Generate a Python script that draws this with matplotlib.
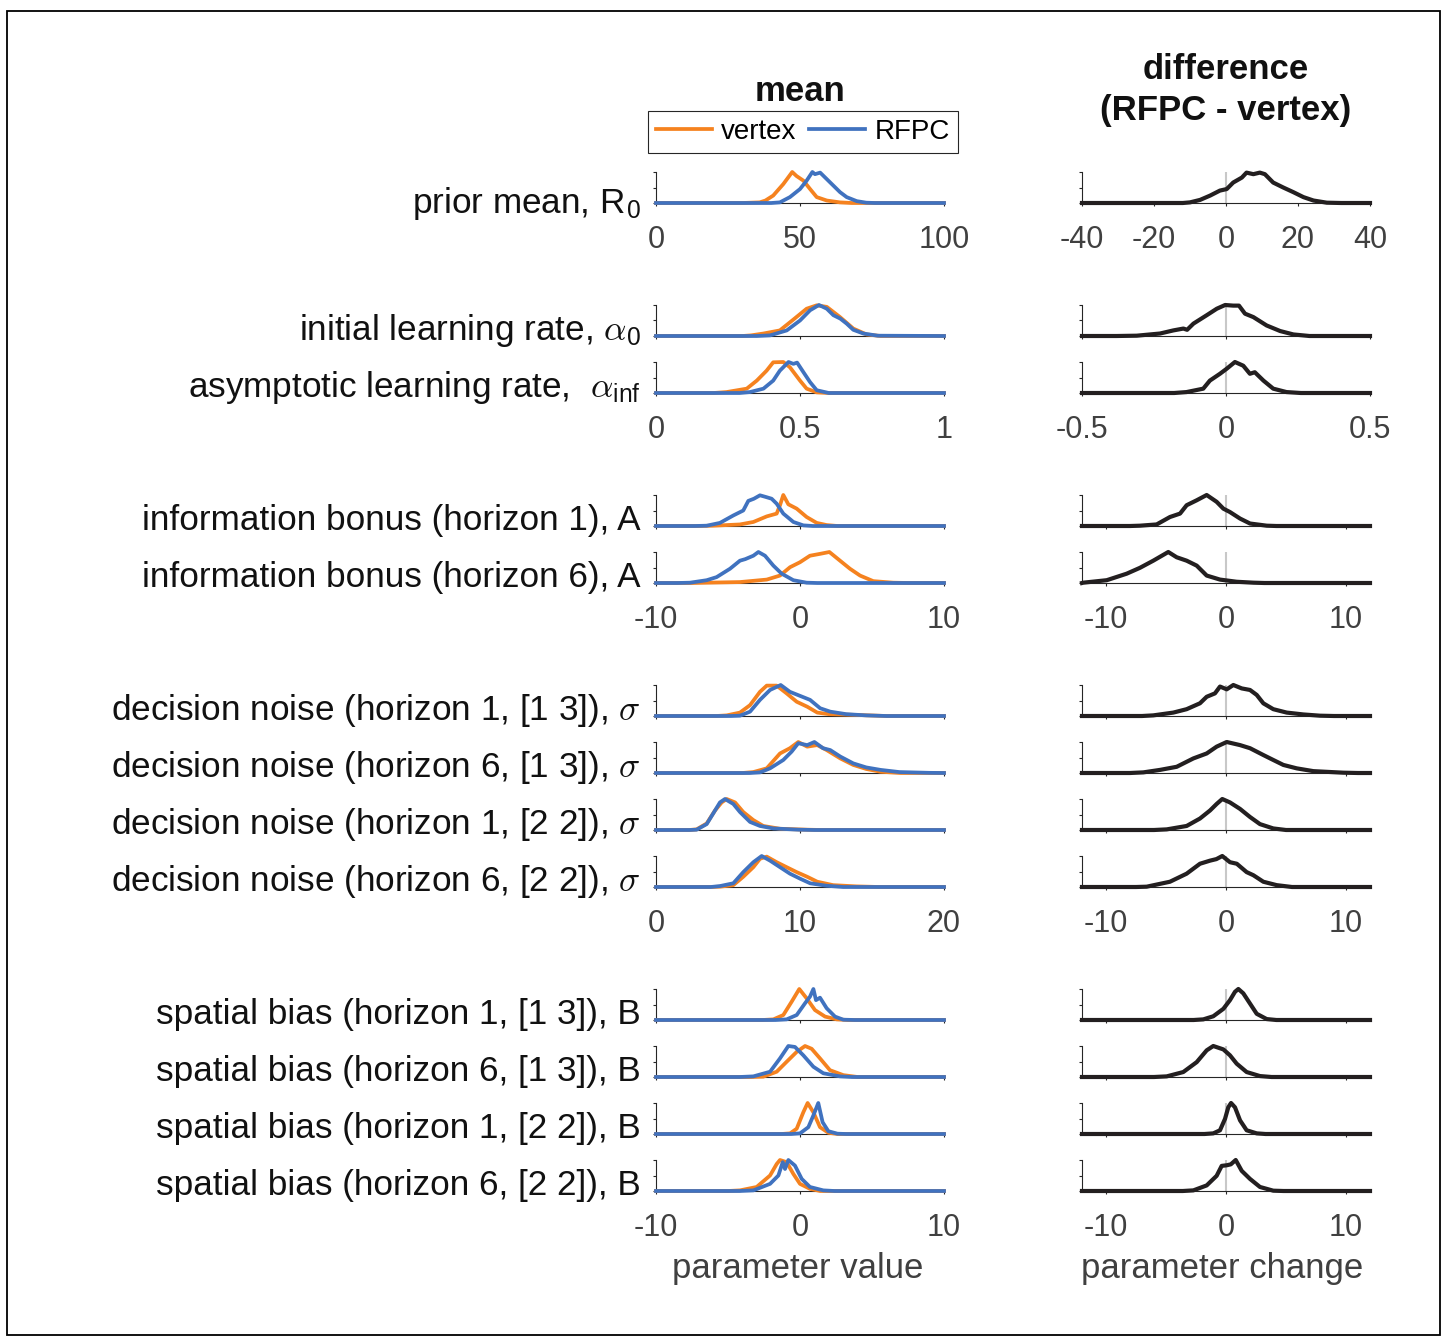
import matplotlib.pyplot as plt
from matplotlib.patches import Rectangle
from matplotlib.lines import Line2D

plt.rcParams["font.family"] = ["Liberation Sans", "DejaVu Sans"]
plt.rcParams["mathtext.fontset"] = "cm"
plt.rcParams["axes.unicode_minus"] = False

# ---------------- data (peak-normalised densities) ----------------
row_labels = [
    r"prior mean, R$_{\mathregular{0}}$",
    r"initial learning rate, $\alpha_{\mathregular{0}}$",
    r"asymptotic learning rate,  $\alpha_{\mathregular{inf}}$",
    "information bonus (horizon 1), A",
    "information bonus (horizon 6), A",
    r"decision noise (horizon 1, [1 3]), $\sigma$",
    r"decision noise (horizon 6, [1 3]), $\sigma$",
    r"decision noise (horizon 1, [2 2]), $\sigma$",
    r"decision noise (horizon 6, [2 2]), $\sigma$",
    "spatial bias (horizon 1, [1 3]), B",
    "spatial bias (horizon 6, [1 3]), B",
    "spatial bias (horizon 1, [2 2]), B",
    "spatial bias (horizon 6, [2 2]), B",
]

mean_xlims = [(0, 100), (0, 1), (0, 1), (-10, 10), (-10, 10),
              (0, 20), (0, 20), (0, 20), (0, 20),
              (-10, 10), (-10, 10), (-10, 10), (-10, 10)]
mean_ticks = [[0, 50, 100], [0, 0.5, 1], [0, 0.5, 1], [-10, 0, 10], [-10, 0, 10],
              [0, 10, 20], [0, 10, 20], [0, 10, 20], [0, 10, 20],
              [-10, 0, 10], [-10, 0, 10], [-10, 0, 10], [-10, 0, 10]]
diff_xlims = [(-40, 40), (-0.5, 0.5), (-0.5, 0.5)] + [(-12, 12)] * 10
diff_ticks = [[-40, -20, 0, 20, 40], [-0.5, 0, 0.5], [-0.5, 0, 0.5]] + [[-10, 0, 10]] * 10
labelled_rows = [0, 2, 4, 8, 12]

vertex_x = [
    [0, 30, 36, 38, 40.7, 44.2, 47.3, 48.8, 51.2, 53.5, 55.8, 59.3, 63.9, 68, 100],
    [0, 0.3, 0.33, 0.373, 0.43, 0.477, 0.523, 0.558, 0.593, 0.639, 0.685, 0.731, 0.78, 1],
    [0, 0.2, 0.245, 0.315, 0.35, 0.384, 0.407, 0.442, 0.465, 0.5, 0.523, 0.558, 0.6, 1],
    [-10, -7, -6.02, -4.17, -3.24, -2.31, -1.62, -1.39, -1.16, -0.81, -0.23, 0.46, 1.16, 1.85, 2.6, 10],
    [-10, -7.5, -6.48, -4.17, -2.31, -1.39, -0.69, 0, 0.69, 1.39, 2.04, 2.78, 3.47, 4.17, 5.09, 6.48, 7.5, 10],
    [0, 4.2, 4.91, 5.83, 6.53, 7.22, 7.69, 8.38, 9.07, 9.77, 10.5, 11.2, 12.0, 14.2, 16, 20],
    [0, 6, 6.76, 7.69, 8.61, 9.3, 9.88, 10.5, 11.2, 11.85, 12.8, 13.7, 14.6, 15.6, 17, 20],
    [0, 2.3, 2.82, 3.52, 4.1, 4.56, 4.91, 5.49, 6.06, 6.76, 7.45, 8.61, 10.5, 11.5, 20],
    [0, 3.8, 4.44, 5.37, 6.06, 6.76, 7.22, 7.69, 8.38, 9.07, 9.77, 10.5, 11.2, 12.3, 13.9, 15.5, 20],
    [-10, -2.6, -1.85, -1.16, -0.58, -0.05, 0.46, 1.04, 1.74, 2.55, 3.3, 10],
    [-10, -3.4, -2.55, -1.62, -0.93, -0.23, 0.35, 0.81, 1.39, 2.08, 3.01, 4.0, 10],
    [-10, -1.3, -0.69, -0.23, 0.23, 0.53, 0.93, 1.39, 1.97, 2.6, 10],
    [-10, -5, -4.17, -3.01, -2.08, -1.62, -1.39, -0.93, -0.46, 0, 0.69, 1.4, 10],
]
vertex_y = [
    [0, 0, 0.02, 0.08, 0.24, 0.61, 1.0, 0.87, 0.72, 0.45, 0.19, 0.08, 0.02, 0, 0],
    [0, 0, 0.02, 0.08, 0.18, 0.53, 0.88, 0.99, 0.94, 0.61, 0.24, 0.05, 0, 0],
    [0, 0, 0.03, 0.14, 0.4, 0.72, 0.99, 1.0, 0.83, 0.4, 0.14, 0.02, 0, 0],
    [0, 0, 0.01, 0.05, 0.13, 0.31, 0.4, 0.67, 1.0, 0.7, 0.56, 0.29, 0.1, 0.03, 0, 0],
    [0, 0, 0.01, 0.03, 0.11, 0.24, 0.51, 0.67, 0.88, 0.94, 1.0, 0.72, 0.46, 0.24, 0.06, 0.01, 0, 0],
    [0, 0, 0.02, 0.11, 0.35, 0.78, 0.98, 0.98, 0.73, 0.46, 0.3, 0.11, 0.06, 0.03, 0, 0],
    [0, 0, 0.03, 0.15, 0.63, 0.8, 1.0, 0.85, 0.9, 0.74, 0.47, 0.26, 0.13, 0.04, 0, 0],
    [0, 0, 0.02, 0.21, 0.63, 0.89, 1.0, 0.89, 0.58, 0.32, 0.13, 0.04, 0.01, 0, 0],
    [0, 0, 0.01, 0.06, 0.33, 0.64, 0.91, 0.98, 0.8, 0.64, 0.48, 0.33, 0.17, 0.06, 0.02, 0, 0],
    [0, 0, 0.02, 0.16, 0.59, 1.0, 0.7, 0.32, 0.11, 0.02, 0, 0],
    [0, 0, 0.01, 0.17, 0.49, 0.81, 1.0, 0.91, 0.6, 0.22, 0.06, 0, 0],
    [0, 0, 0.02, 0.17, 0.7, 1.0, 0.7, 0.22, 0.04, 0, 0],
    [0, 0, 0.02, 0.13, 0.5, 0.87, 1.0, 0.93, 0.55, 0.23, 0.07, 0, 0],
]

rfpc_x = [
    [0, 40, 43, 46.5, 50, 52.3, 54.3, 55.2, 57, 59.3, 61.6, 63.9, 66.2, 69.7, 73, 76, 100],
    [0, 0.35, 0.396, 0.454, 0.5, 0.535, 0.566, 0.593, 0.616, 0.64, 0.662, 0.685, 0.72, 0.77, 1],
    [0, 0.29, 0.326, 0.373, 0.407, 0.43, 0.46, 0.477, 0.49, 0.512, 0.535, 0.558, 0.6, 1],
    [-10, -7.3, -6.48, -5.56, -4.63, -3.94, -3.59, -3.2, -2.78, -2.4, -1.97, -1.62, -1.16, -0.46, 0.23, 0.9, 10],
    [-10, -8.5, -7.64, -6.48, -5.79, -4.86, -4.17, -3.8, -3.24, -2.89, -2.43, -1.85, -1.27, -0.46, 0.46, 1.2, 10],
    [0, 5.2, 5.83, 6.53, 7.22, 7.92, 8.66, 9.3, 10, 10.7, 11.4, 12.1, 13.2, 14.6, 16, 20],
    [0, 6.5, 7.22, 7.92, 8.84, 9.42, 9.88, 10.5, 11.0, 11.6, 12.1, 12.8, 13.7, 14.6, 15.6, 16.9, 19, 20],
    [0, 2.3, 2.82, 3.52, 4.1, 4.44, 4.79, 5.37, 5.83, 6.53, 7.22, 8.15, 9.9, 11, 20],
    [0, 3.8, 4.44, 5.37, 6.06, 6.76, 7.34, 7.92, 8.61, 9.3, 10, 10.7, 11.85, 13, 20],
    [-10, -1.7, -0.93, -0.23, 0.35, 0.69, 0.93, 1.11, 1.39, 1.85, 2.43, 3.01, 3.8, 10],
    [-10, -4.2, -3.24, -2.08, -1.39, -0.81, -0.35, 0.23, 0.93, 1.62, 2.78, 3.6, 10],
    [-10, -0.6, 0, 0.58, 0.93, 1.27, 1.57, 1.97, 2.6, 3.2, 10],
    [-10, -4.2, -3.24, -2.08, -1.5, -1.2, -1.04, -0.81, -0.35, 0.12, 0.69, 1.62, 2.4, 10],
]
rfpc_y = [
    [0, 0, 0.02, 0.19, 0.45, 0.72, 1.0, 0.93, 0.98, 0.77, 0.56, 0.35, 0.19, 0.06, 0.01, 0, 0],
    [0, 0, 0.02, 0.18, 0.5, 0.83, 1.0, 0.88, 0.67, 0.56, 0.4, 0.2, 0.08, 0.01, 0],
    [0, 0, 0.03, 0.14, 0.4, 0.72, 1.0, 0.94, 0.98, 0.67, 0.35, 0.09, 0, 0],
    [0, 0, 0.01, 0.1, 0.34, 0.5, 0.81, 0.88, 0.99, 0.94, 0.88, 0.72, 0.4, 0.13, 0.02, 0, 0],
    [0, 0, 0.01, 0.09, 0.19, 0.46, 0.72, 0.77, 0.88, 1.0, 0.88, 0.56, 0.3, 0.09, 0.01, 0, 0],
    [0, 0, 0.01, 0.14, 0.52, 0.84, 1.0, 0.78, 0.65, 0.52, 0.25, 0.14, 0.06, 0.02, 0, 0],
    [0, 0, 0.02, 0.15, 0.42, 0.69, 0.96, 0.9, 1.0, 0.8, 0.74, 0.53, 0.31, 0.18, 0.1, 0.03, 0.005, 0],
    [0, 0, 0.01, 0.19, 0.63, 0.89, 1.0, 0.84, 0.58, 0.26, 0.13, 0.05, 0.01, 0, 0],
    [0, 0, 0.03, 0.12, 0.48, 0.8, 1.0, 0.85, 0.64, 0.43, 0.27, 0.12, 0.04, 0, 0],
    [0, 0, 0.02, 0.16, 0.54, 0.75, 1.0, 0.64, 0.72, 0.38, 0.11, 0.01, 0, 0],
    [0, 0, 0.02, 0.17, 0.6, 1.0, 0.97, 0.7, 0.33, 0.12, 0.02, 0, 0],
    [0, 0, 0.02, 0.22, 0.6, 1.0, 0.38, 0.09, 0.01, 0, 0],
    [0, 0, 0.02, 0.23, 0.5, 0.93, 0.71, 1.0, 0.82, 0.39, 0.13, 0.02, 0, 0],
]

diff_x = [
    [-40, -12, -10, -7.2, -4.4, -1.7, 0.2, 2, 4.4, 5.7, 7.6, 9.4, 10.8, 13.1, 15.9, 18.7, 21.5, 24.3, 28, 32, 40],
    [-0.5, -0.38, -0.31, -0.229, -0.183, -0.148, -0.135, -0.113, -0.067, -0.032, -0.003, 0.025, 0.045, 0.066, 0.095, 0.141, 0.188, 0.234, 0.29, 0.5],
    [-0.5, -0.18, -0.137, -0.079, -0.056, -0.021, 0.002, 0.031, 0.06, 0.083, 0.1, 0.13, 0.164, 0.21, 0.26, 0.5],
    [-12, -8, -7.17, -5.78, -4.67, -3.83, -3.28, -2.44, -1.61, -0.78, -0.22, 0.33, 1.17, 2.0, 3.39, 4.2, 12],
    [-12, -11.9, -9.94, -8.28, -7.17, -6.06, -4.81, -4.11, -3.28, -2.44, -1.61, -0.5, 0.89, 2.3, 3.2, 12],
    [-12, -7, -6.06, -4.39, -3.28, -2.17, -1.61, -0.92, -0.5, 0.06, 0.61, 1.31, 2.0, 2.56, 3.11, 3.94, 5.06, 6.44, 7.83, 9, 12],
    [-12, -8, -6.89, -5.5, -4.11, -2.72, -1.61, -0.78, 0.06, 1.17, 2.0, 3.11, 3.94, 4.78, 5.89, 7.28, 9.78, 11, 12],
    [-12, -6, -4.94, -3.28, -2.17, -1.33, -0.78, -0.31, 0.33, 1.17, 2.0, 2.83, 3.94, 5, 12],
    [-12, -7.5, -6.61, -4.67, -3.28, -2.17, -1.33, -0.8, -0.31, 0.33, 0.9, 1.72, 2.28, 3.11, 4.22, 5.5, 12],
    [-12, -2.7, -1.89, -1.06, -0.22, 0.33, 0.75, 1.03, 1.44, 2.0, 2.56, 3.39, 4.2, 12],
    [-12, -6, -4.94, -3.56, -2.44, -1.61, -1.06, -0.22, 0.33, 0.89, 1.72, 2.83, 3.8, 12],
    [-12, -1.8, -1.06, -0.5, -0.08, 0.19, 0.42, 0.75, 1.17, 1.72, 2.56, 3.3, 12],
    [-12, -3.6, -2.72, -1.61, -0.78, -0.36, 0.06, 0.4, 0.81, 1.31, 2.0, 2.83, 3.94, 4.8, 12],
]
diff_y = [
    [0, 0, 0.02, 0.1, 0.24, 0.4, 0.45, 0.66, 0.82, 0.98, 0.93, 0.98, 0.93, 0.66, 0.5, 0.35, 0.19, 0.08, 0.01, 0, 0],
    [0, 0, 0.01, 0.08, 0.18, 0.24, 0.2, 0.4, 0.67, 0.88, 1.0, 0.98, 0.98, 0.72, 0.61, 0.34, 0.16, 0.05, 0, 0],
    [0, 0, 0.03, 0.14, 0.4, 0.62, 0.78, 1.0, 0.88, 0.62, 0.67, 0.4, 0.14, 0.03, 0, 0],
    [0, 0, 0.01, 0.05, 0.29, 0.4, 0.67, 0.83, 1.0, 0.78, 0.56, 0.45, 0.24, 0.08, 0.01, 0, 0],
    [0, 0.01, 0.09, 0.3, 0.49, 0.72, 1.0, 0.83, 0.72, 0.56, 0.24, 0.11, 0.04, 0.01, 0, 0],
    [0, 0, 0.02, 0.11, 0.22, 0.41, 0.62, 0.73, 0.95, 0.86, 1.0, 0.89, 0.84, 0.68, 0.41, 0.22, 0.11, 0.05, 0.01, 0, 0],
    [0, 0, 0.02, 0.1, 0.2, 0.47, 0.63, 0.85, 1.0, 0.9, 0.8, 0.58, 0.42, 0.26, 0.15, 0.06, 0.01, 0, 0],
    [0, 0, 0.02, 0.13, 0.37, 0.63, 0.84, 1.0, 0.89, 0.68, 0.42, 0.19, 0.05, 0, 0],
    [0, 0, 0.01, 0.17, 0.43, 0.75, 0.85, 0.9, 1.0, 0.8, 0.75, 0.48, 0.38, 0.17, 0.06, 0, 0],
    [0, 0, 0.02, 0.12, 0.36, 0.64, 0.91, 1.0, 0.86, 0.53, 0.2, 0.03, 0, 0],
    [0, 0, 0.02, 0.16, 0.48, 0.86, 1.0, 0.89, 0.7, 0.43, 0.16, 0.03, 0, 0],
    [0, 0, 0.02, 0.12, 0.49, 0.86, 1.0, 0.86, 0.44, 0.12, 0.02, 0, 0],
    [0, 0, 0.02, 0.18, 0.49, 0.81, 0.83, 0.86, 1.0, 0.65, 0.39, 0.13, 0.01, 0, 0],
]

# ---------------- layout (figure pixels) ----------------
W, H = 1444, 1340
row_base = [203, 336, 393, 526, 583, 716, 773, 830, 887, 1020, 1077, 1134, 1191]
ax_h = 31
mean_left, diff_left, ax_w = 656, 1082, 288

c_vertex = "#F5821F"
c_rfpc = "#4072BF"
c_diff = "#231F20"
c_axis = "#262626"
c_tick = "#404040"


def fx(x):
    return x / W


def fy(y):
    return 1 - y / H


fig = plt.figure(figsize=(W / 100, H / 100), dpi=100, facecolor="white")


def style_axes(ax, xlim, ticks, show_labels):
    ax.set_xlim(xlim)
    ax.set_ylim(0, 1)
    for s in ["top", "right"]:
        ax.spines[s].set_visible(False)
    for s in ["left", "bottom"]:
        ax.spines[s].set_color(c_axis)
        ax.spines[s].set_linewidth(0.8)
    ax.set_yticks([0, 0.5, 1])
    ax.set_yticklabels([])
    ax.set_xticks(ticks)
    if show_labels:
        ax.set_xticklabels([f"{t:g}" for t in ticks])
    else:
        ax.set_xticklabels([])
    ax.tick_params(direction="out", length=2.5, width=0.8, color=c_axis,
                   labelsize=22, labelcolor=c_tick)
    ax.tick_params(axis="x", pad=13)
    ax.patch.set_alpha(0)


for i in range(len(row_base)):
    b = row_base[i]
    show = i in labelled_rows

    ax = fig.add_axes([fx(mean_left), fy(b), ax_w / W, ax_h / H])
    style_axes(ax, mean_xlims[i], mean_ticks[i], show)
    ax.plot(vertex_x[i], vertex_y[i], color=c_vertex, lw=2.7, clip_on=False, zorder=3)
    ax.plot(rfpc_x[i], rfpc_y[i], color=c_rfpc, lw=2.7, clip_on=False, zorder=4)

    ax2 = fig.add_axes([fx(diff_left), fy(b), ax_w / W, ax_h / H])
    style_axes(ax2, diff_xlims[i], diff_ticks[i], show)
    ax2.plot([0, 0], [0, 1], color="#c8c8c8", lw=1.5, zorder=2)
    ax2.plot(diff_x[i], diff_y[i], color=c_diff, lw=3.0, clip_on=False, zorder=3)

    off = 10 if i == 0 else 4
    fig.text(fx(641), fy(b + off), row_labels[i], ha="right", va="baseline",
             fontsize=25.3, color="#111111")

# titles
fig.text(fx(800), fy(101), "mean", ha="center", va="baseline",
         fontsize=25, fontweight="bold", color="#111111")
fig.text(fx(1226), fy(90), "difference\n(RFPC - vertex)", ha="center", va="center",
         fontsize=25, fontweight="bold", color="#111111", linespacing=1.28)

# x labels
fig.text(fx(798), fy(1278), "parameter value", ha="center", va="baseline",
         fontsize=25, color=c_tick)
fig.text(fx(1222), fy(1278), "parameter change", ha="center", va="baseline",
         fontsize=25, color=c_tick)

# legend
handles = [Line2D([], [], color=c_vertex, lw=2.7), Line2D([], [], color=c_rfpc, lw=2.7)]
leg = fig.legend(handles, ["vertex", "RFPC"], loc="center",
                 bbox_to_anchor=(fx(803), fy(132)), ncol=2, fontsize=20,
                 frameon=True, fancybox=False, edgecolor=c_axis, framealpha=1,
                 handlelength=2.0, handletextpad=0.35, columnspacing=0.45,
                 borderpad=0.3, borderaxespad=0)
leg.get_frame().set_linewidth(0.8)

# outer border
fig.patches.append(Rectangle((fx(7), fy(1335)), (1440 - 7) / W, (1335 - 11) / H,
                             transform=fig.transFigure, fill=False,
                             edgecolor="black", lw=1.3))

fig.savefig("out.png", dpi=100, facecolor="white")
